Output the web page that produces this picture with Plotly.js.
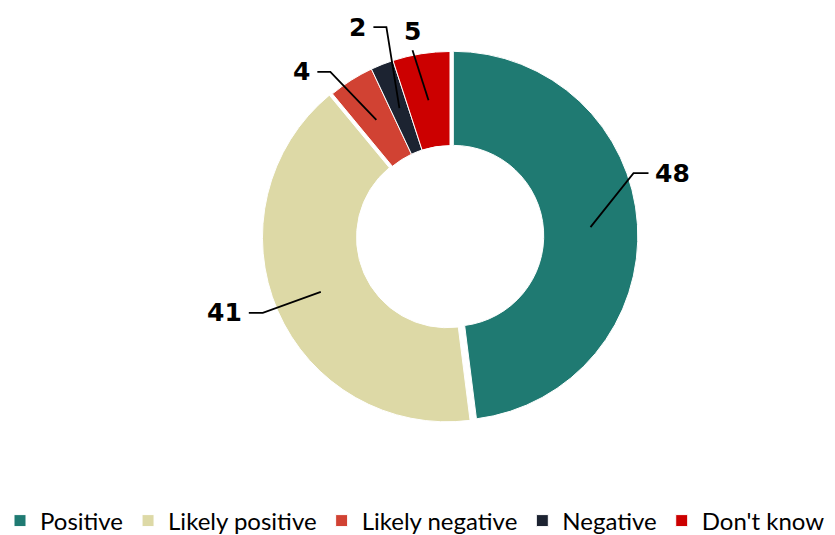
<!DOCTYPE html>
<html>
<head>
<meta charset="utf-8">
<script src="https://cdn.plot.ly/plotly-3.0.1.min.js"></script>
<style>html,body{margin:0;padding:0;background:#fff;}#chart{width:835px;height:535px;}</style>
</head>
<body>
<div id="chart"></div>
<script>
// ---- data ----
var categories = ["Positive", "Likely positive", "Likely negative", "Negative", "Don't know"];
var values = [48, 41, 4, 2, 5];
var labelTexts = ["48", "41", "4", "2", "5"];
var colors = ["#1f7a72", "#ddd9a6", "#d14233", "#1c2331", "#cc0000"];
var pulls = [0.018, 0.018, 0, 0, 0];

// ---- layout geometry (pixels) ----
var W = 835, H = 535;
var CX = 450, CY = 236, R = 184.5, HOLE = 0.49;
var maxPull = Math.max.apply(null, pulls);
var half = R * (1 + maxPull);
var domX = [(CX - half) / W, (CX + half) / W];
var domY = [1 - (CY + half) / H, 1 - (CY - half) / H];

// leader line geometry: elbow offset from anchor, then horizontal segment, label side
var leader = [
  {ex: 43, ey: -54, hx: 15, side: "left"},
  {ex: -58, ey: 21, hx: -14, side: "right"},
  {ex: -46, ey: -48, hx: -13, side: "right"},
  {ex: -13, ey: -81, hx: -13, side: "right"},
  {ex: -16, ey: -50, hx: 0, side: "top"}
];

function px(x) { return x / W; }
function py(y) { return 1 - y / H; }

var total = values.reduce(function (a, b) { return a + b; }, 0);
var shapes = [], annotations = [];
var cum = 0;
var rMid = R * (1 + HOLE) / 2;
values.forEach(function (v, i) {
  var m = (cum + v / 2) / total;
  cum += v;
  var th = 2 * Math.PI * m;
  var dx = Math.sin(th), dy = -Math.cos(th);
  var r = rMid + pulls[i] * R;
  var ax = CX + r * dx, ay = CY + r * dy;
  var L = leader[i];
  var ex = ax + L.ex, ey = ay + L.ey;
  var hx = ex + L.hx;
  var path = "M " + px(ax) + " " + py(ay) + " L " + px(ex) + " " + py(ey);
  if (L.hx !== 0) path += " L " + px(hx) + " " + py(ey);
  shapes.push({type: "path", xref: "paper", yref: "paper", path: path,
    line: {color: "#000", width: 1.8}});
  var ann = {xref: "paper", yref: "paper", text: labelTexts[i], showarrow: false,
    font: {family: "DejaVu Sans", size: 25, color: "#000", weight: "bold"}};
  if (L.side === "left") { ann.x = px(hx + 5); ann.y = py(ey); ann.xanchor = "left"; ann.yanchor = "middle"; }
  else if (L.side === "right") { ann.x = px(hx - 5); ann.y = py(ey); ann.xanchor = "right"; ann.yanchor = "middle"; }
  else { ann.x = px(ex); ann.y = py(ey - 2); ann.xanchor = "center"; ann.yanchor = "bottom"; }
  annotations.push(ann);
});

var trace = {
  type: "pie",
  labels: categories,
  values: values,
  hole: HOLE,
  sort: false,
  direction: "clockwise",
  rotation: 0,
  pull: pulls,
  textinfo: "none",
  hoverinfo: "label+value",
  marker: {colors: colors, line: {color: "#ffffff", width: 1}},
  domain: {x: domX, y: domY}
};

var layout = {
  width: W, height: H,
  margin: {l: 0, r: 0, t: 0, b: 0, autoexpand: false},
  paper_bgcolor: "#fff",
  showlegend: true,
  legend: {orientation: "h", x: 0, xanchor: "left", xref: "container",
    y: 1 - 521 / H, yanchor: "middle", yref: "container",
    font: {family: "Lato", size: 24, color: "#000"}, traceorder: "normal"},
  shapes: shapes,
  annotations: annotations
};

Plotly.newPlot("chart", [trace], layout, {displayModeBar: false, staticPlot: true});
</script>
</body>
</html>
